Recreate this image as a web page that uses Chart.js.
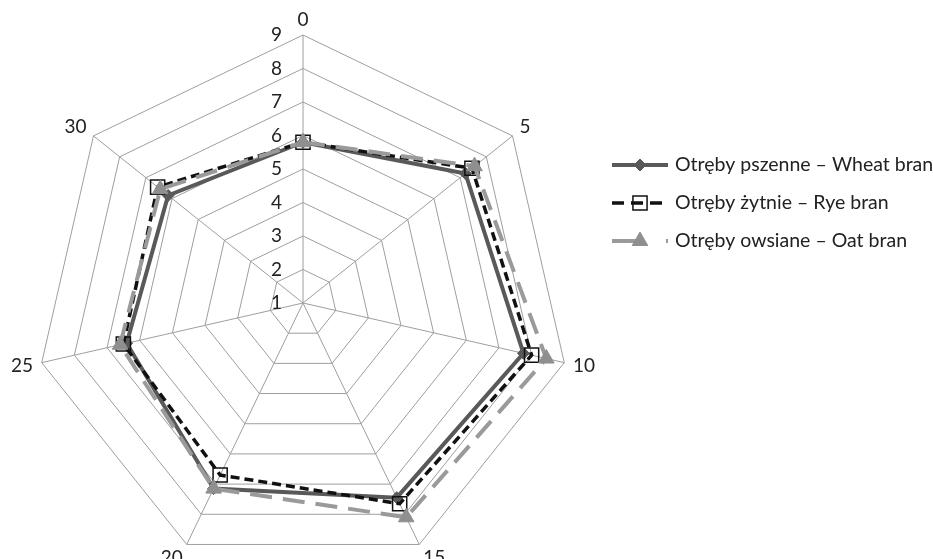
<!DOCTYPE html>
<html>
<head>
<meta charset="utf-8">
<title>Otręby – radar</title>
<script src="https://cdn.jsdelivr.net/npm/chart.js@4.4.1/dist/chart.umd.min.js"></script>
<style>
  html, body { margin: 0; padding: 0; background: #ffffff; overflow: hidden; width: 933px; height: 559px; }
  #box { position: absolute; left: 0; top: 0; width: 933px; height: 606px; }
</style>
</head>
<body>
<div id="box"><canvas id="chart"></canvas></div>
<script>
// Time axis (categories around the web) and the radial scale labels
const categories = ['0', '5', '10', '15', '20', '25', '30'];
const tickLabels = ['1', '2', '3', '4', '5', '6', '7', '8', '9'];

// Series names
const seriesNames = [
  'Otręby pszenne – Wheat bran',
  'Otręby żytnie – Rye bran',
  'Otręby owsiane – Oat bran'
];

// Series values, one per category
const wheatBran = [5.8, 7.2, 7.75, 7.45, 7.15, 6.4, 6.15];
const ryeBran   = [5.8, 7.45, 8.0, 7.65, 6.7, 6.5, 6.55];
const oatBran   = [5.8, 7.55, 8.45, 8.1, 7.15, 6.6, 6.45];

const FONT = 'Lato, "Open Sans", sans-serif';
const TEXT = '#222222';
const GRID = '#9e9e9e';

const styles = [
  { color: '#595959', width: 4,   dash: [],       legendDash: [],       point: 'rectRot',  radius: 6,  fill: '#595959', pBorder: '#595959', pWidth: 1 },
  { color: '#111111', width: 3.5, dash: [9, 5],   legendDash: [12, 7],  point: 'rect',     radius: 10, fill: 'rgba(0,0,0,0)', pBorder: '#111111', pWidth: 1.5 },
  { color: '#9a9a9a', width: 4,   dash: [22, 11], legendDash: [30, 24], point: 'triangle', radius: 9,  fill: '#8f8f8f', pBorder: '#8f8f8f', pWidth: 1 }
];
const seriesValues = [wheatBran, ryeBran, oatBran];
// oat on top, wheat at the bottom
const drawOrder = [2, 1, 0];

const datasets = seriesValues.map((vals, i) => ({
  label: seriesNames[i],
  data: vals,
  order: drawOrder[i],
  fill: false,
  borderColor: styles[i].color,
  borderWidth: styles[i].width,
  borderDash: styles[i].dash,
  borderJoinStyle: 'miter',
  backgroundColor: styles[i].fill,
  pointStyle: styles[i].point,
  pointRadius: styles[i].radius,
  pointHoverRadius: styles[i].radius,
  pointBackgroundColor: styles[i].fill,
  pointBorderColor: styles[i].pBorder,
  pointBorderWidth: styles[i].pWidth,
  tension: 0
}));

// Tick labels on the vertical spoke, right-aligned to its left
const tickText = {
  id: 'tickText',
  beforeDatasetsDraw(chart) {
    const r = chart.scales.r;
    const ctx = chart.ctx;
    ctx.save();
    ctx.font = '19px ' + FONT;
    ctx.fillStyle = TEXT;
    ctx.textAlign = 'right';
    ctx.textBaseline = 'middle';
    r.ticks.forEach((t, i) => {
      const d = r.getDistanceFromCenterForValue(t.value);
      ctx.fillText(tickLabels[i], r.xCenter - 21, r.yCenter - d);
    });
    ctx.restore();
  }
};

// Category labels just outside each outer vertex
const spokeText = {
  id: 'spokeText',
  afterDraw(chart) {
    const r = chart.scales.r;
    const ctx = chart.ctx;
    ctx.save();
    ctx.font = '19px ' + FONT;
    ctx.fillStyle = TEXT;
    ctx.textBaseline = 'middle';
    categories.forEach((c, i) => {
      const a = r.getIndexAngle(i);
      const dx = Math.sin(a), dy = -Math.cos(a);
      const p = r.getPointPosition(i, r.drawingArea + 9);
      ctx.textAlign = Math.abs(dx) < 0.05 ? 'center' : (dx > 0 ? 'left' : 'right');
      ctx.fillText(c, p.x, p.y + dy * 6);
    });
    ctx.restore();
  }
};

// Legend at the right: line sample with its marker, then the name
const sideLegend = {
  id: 'sideLegend',
  afterDraw(chart) {
    const ctx = chart.ctx;
    const x0 = 612, x1 = 668, tx = 675;
    const rows = [165, 203, 241];
    ctx.save();
    seriesNames.forEach((name, i) => {
      const s = styles[i];
      const y = rows[i];
      ctx.strokeStyle = s.color;
      ctx.lineWidth = s.width;
      ctx.setLineDash(s.legendDash);
      ctx.lineCap = 'butt';
      ctx.beginPath();
      ctx.moveTo(x0, y);
      ctx.lineTo(x1, y);
      ctx.stroke();
      ctx.setLineDash([]);
      ctx.fillStyle = s.fill;
      ctx.strokeStyle = s.pBorder;
      ctx.lineWidth = s.pWidth;
      Chart.helpers.drawPoint(ctx, { pointStyle: s.point, radius: s.radius, rotation: 0, borderWidth: s.pWidth }, 640, y);
      ctx.font = '19.5px ' + FONT;
      ctx.fillStyle = TEXT;
      ctx.textAlign = 'left';
      ctx.textBaseline = 'middle';
      ctx.fillText(name, tx, y);
    });
    ctx.restore();
  }
};

new Chart(document.getElementById('chart'), {
  type: 'radar',
  data: { labels: categories, datasets: datasets },
  options: {
    responsive: true,
    maintainAspectRatio: false,
    animation: false,
    layout: { padding: { left: 35, top: 35, right: 362, bottom: 35 } },
    plugins: {
      legend: { display: false },
      tooltip: { enabled: false }
    },
    scales: {
      r: {
        min: 1,
        max: 9,
        startAngle: 0,
        ticks: { display: false, stepSize: 1 },
        grid: { color: GRID, lineWidth: 1 },
        angleLines: { color: GRID, lineWidth: 1 },
        pointLabels: { display: false }
      }
    }
  },
  plugins: [tickText, spokeText, sideLegend]
});
</script>
</body>
</html>
